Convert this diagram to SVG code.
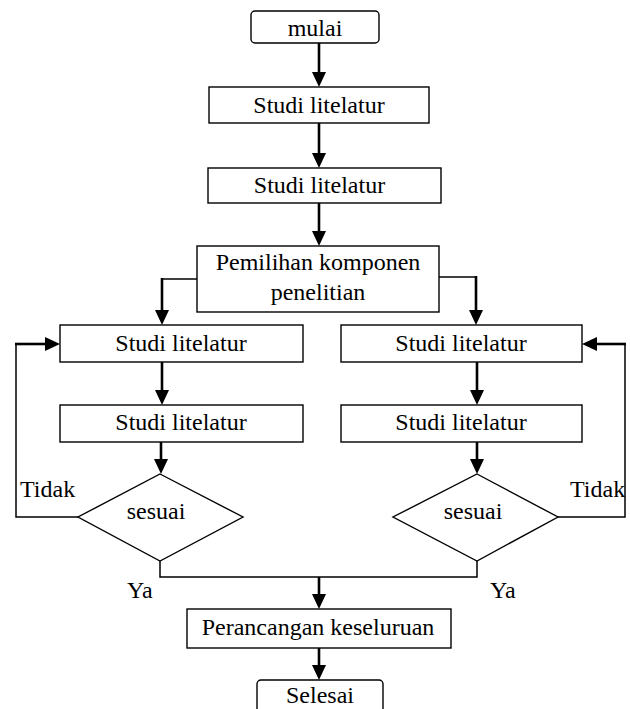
<svg xmlns="http://www.w3.org/2000/svg" width="630" height="709" viewBox="0 0 630 709">
<style>
.box{fill:#fff;stroke:#000;stroke-width:1.4}
.t{font-family:"Liberation Serif","Times New Roman",serif;font-size:24px;fill:#000;text-anchor:middle}
.l{font-family:"Liberation Serif","Times New Roman",serif;font-size:24px;fill:#000}
.thin{fill:none;stroke:#000;stroke-width:1.5}
.thick{fill:none;stroke:#000;stroke-width:2.6;marker-end:url(#ah)}
</style>
<defs>
<marker id="ah" markerUnits="userSpaceOnUse" markerWidth="15" markerHeight="14" refX="0" refY="7" orient="auto">
<path d="M0,0 L15,7 L0,14 z" fill="#000"/>
</marker>
</defs>
<rect width="630" height="709" fill="#fff"/>
<g id="connectors">
<path class="thick" d="M319,43 V72"/>
<path class="thick" d="M319,123 V153"/>
<path class="thick" d="M319,203 V231"/>
<path class="thin" d="M197,279 H162"/>
<path class="thick" d="M162,278 V310"/>
<path class="thin" d="M439,277 H476"/>
<path class="thick" d="M476,276 V310"/>
<path class="thick" d="M162,362 V390"/>
<path class="thick" d="M161,442 V459"/>
<path class="thick" d="M477,362 V390"/>
<path class="thick" d="M477,442 V459"/>
<path class="thin" d="M78,517 H16 V344"/>
<path class="thick" d="M15,344 H45"/>
<path class="thin" d="M558,517 H625 V344"/>
<path class="thick" d="M626,344 H597"/>
<path class="thin" d="M160,561 V577 H477 V561"/>
<path class="thick" d="M319,577 V594"/>
<path class="thick" d="M319,648 V665"/>
<text class="l" x="20" y="497">Tidak</text>
<text class="l" x="570" y="497">Tidak</text>
<text class="l" x="127" y="598">Ya</text>
<text class="l" x="490" y="598">Ya</text>
</g>
<g id="mulai">
<rect class="box" x="251" y="11" width="128" height="32" rx="4"/>
<text class="t" x="315" y="36">mulai</text>
</g>
<g id="studi1">
<rect class="box" x="209" y="87" width="220" height="36"/>
<text class="t" x="319" y="113">Studi litelatur</text>
</g>
<g id="studi2">
<rect class="box" x="208" y="168" width="233" height="35"/>
<text class="t" x="319.5" y="193">Studi litelatur</text>
</g>
<g id="pemilihan">
<rect class="box" x="197" y="246" width="242" height="66"/>
<text class="t" x="318" y="270">Pemilihan komponen</text>
<text class="t" x="318" y="300">penelitian</text>
</g>
<g id="left1">
<rect class="box" x="60" y="325" width="243" height="37"/>
<text class="t" x="181" y="351">Studi litelatur</text>
</g>
<g id="left2">
<rect class="box" x="60" y="405" width="243" height="37"/>
<text class="t" x="181" y="430">Studi litelatur</text>
</g>
<g id="leftDecision">
<polygon class="box" points="160,474 243,517 160,561 78,517"/>
<text class="t" x="156" y="519">sesuai</text>
</g>
<g id="right1">
<rect class="box" x="341" y="325" width="241" height="37"/>
<text class="t" x="461" y="351">Studi litelatur</text>
</g>
<g id="right2">
<rect class="box" x="341" y="405" width="241" height="37"/>
<text class="t" x="461" y="430">Studi litelatur</text>
</g>
<g id="rightDecision">
<polygon class="box" points="477,474 558,517 477,561 393,517"/>
<text class="t" x="473" y="519">sesuai</text>
</g>
<g id="perancangan">
<rect class="box" x="187" y="609" width="264" height="39"/>
<text class="t" x="318" y="635">Perancangan keseluruan</text>
</g>
<g id="selesai">
<rect class="box" x="257" y="680" width="126" height="36" rx="4"/>
<text class="t" x="320" y="703">Selesai</text>
</g>
</svg>
